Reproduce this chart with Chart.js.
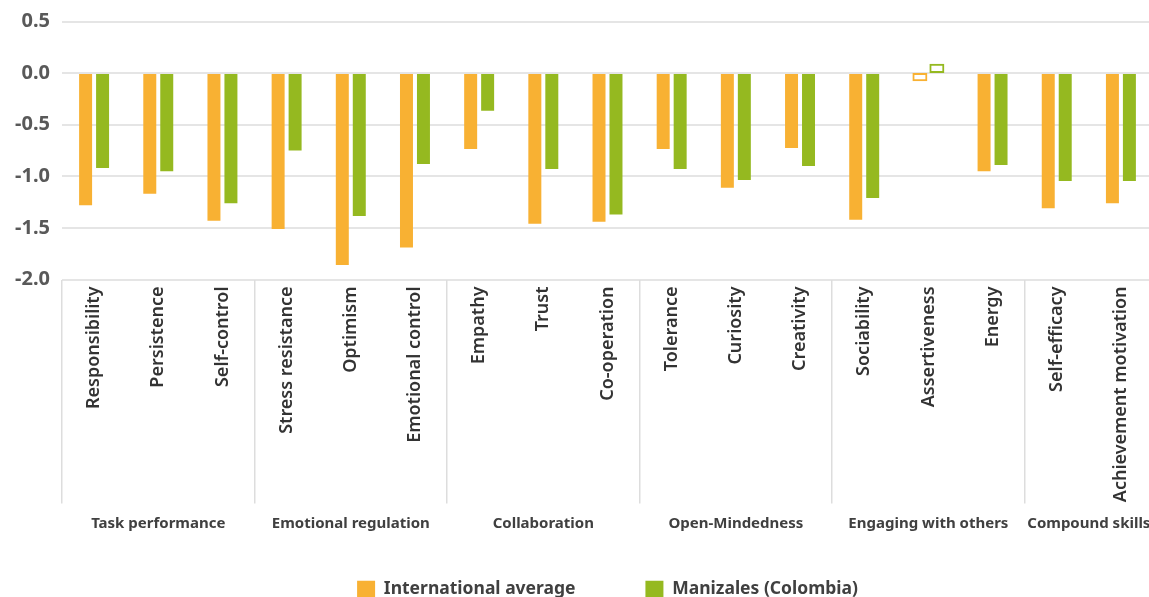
<!DOCTYPE html>
<html>
<head>
<meta charset="utf-8">
<script src="https://cdn.jsdelivr.net/npm/chart.js@4/dist/chart.umd.min.js"></script>
<style>
  html, body { margin: 0; padding: 0; background: #fff; overflow: hidden; }
  #wrap { position: relative; width: 1164px; height: 608px; }
</style>
</head>
<body>
<div id="wrap"><canvas id="c"></canvas></div>
<script>
const categories = ['Responsibility', 'Persistence', 'Self-control', 'Stress resistance', 'Optimism',
  'Emotional control', 'Empathy', 'Trust', 'Co-operation', 'Tolerance', 'Curiosity', 'Creativity',
  'Sociability', 'Assertiveness', 'Energy', 'Self-efficacy', 'Achievement motivation'];
const groups = ['Task performance', 'Emotional regulation', 'Collaboration', 'Open-Mindedness',
  'Engaging with others', 'Compound skills'];
const groupSizes = [3, 3, 3, 3, 3, 2];
const seriesNames = ['International average', 'Manizales (Colombia)'];
const intlAverage = [-1.28, -1.17, -1.43, -1.51, -1.86, -1.69, -0.735, -1.46, -1.44,
  -0.735, -1.11, -0.725, -1.42, -0.07, -0.95, -1.31, -1.26];
const manizales = [-0.92, -0.95, -1.26, -0.75, -1.385, -0.88, -0.365, -0.93, -1.37,
  -0.93, -1.035, -0.90, -1.21, 0.08, -0.89, -1.045, -1.045];
// outlined (hollow) marks
const notSignificant = [false, false, false, false, false, false, false, false, false,
  false, false, false, false, true, false, false, false];
const yTickValues = [0.5, 0.0, -0.5, -1.0, -1.5, -2.0];

const ORANGE = '#F8B133';
const GREEN = '#95B920';
const FONT = "'Noto Sans', 'Open Sans', sans-serif";

// group boundaries (category index where each group starts)
const groupStarts = [];
let acc = 0;
groupSizes.forEach(s => { groupStarts.push(acc); acc += s; });
groupStarts.push(acc);

// group axis: half-category slots from -0.5 to n-0.5 (non-offset category axis)
const groupAxisLabels = [];
for (let j = 0; j <= categories.length * 2; j++) groupAxisLabels.push('');
groupSizes.forEach((s, g) => {
  const center = groupStarts[g] + (s - 1) / 2;       // in category units
  groupAxisLabels[Math.round((center + 0.5) * 2)] = groups[g];
});

function makeDataset(label, data, color) {
  return {
    label: label,
    data: data,
    backgroundColor: data.map((v, i) => notSignificant[i] ? '#FFFFFF' : color),
    borderColor: color,
    borderWidth: data.map((v, i) => notSignificant[i] ? 2 : 0),
    borderSkipped: false,
    inflateAmount: data.map((v, i) => notSignificant[i] ? 1 : 'auto'),
    categoryPercentage: 0.529,
    barPercentage: 0.765
  };
}

new Chart(document.getElementById('c'), {
  type: 'bar',
  data: {
    labels: categories,
    datasets: [
      makeDataset(seriesNames[0], intlAverage, ORANGE),
      makeDataset(seriesNames[1], manizales, GREEN)
    ]
  },
  options: {
    responsive: true,
    maintainAspectRatio: false,
    animation: false,
    layout: { padding: { top: 21.5, left: 14, right: 6, bottom: 0 } },
    plugins: {
      tooltip: { enabled: false },
      legend: {
        position: 'bottom',
        fullSize: false,
        labels: {
          font: { family: FONT, size: 17.5, weight: 'bold' },
          color: '#404040',
          boxWidth: 18,
          boxHeight: 17,
          padding: 46,
          generateLabels: (chart) => chart.data.datasets.map((ds, i) => ({
            text: i === 0 ? ds.label + '\u2003\u2009\u200A\u200A' : ds.label,
            fillStyle: i === 0 ? ORANGE : GREEN,
            strokeStyle: i === 0 ? ORANGE : GREEN,
            lineWidth: 0,
            fontColor: '#404040',
            datasetIndex: i,
            hidden: false
          }))
        }
      }
    },
    scales: {
      y: {
        min: -2.0,
        max: 0.5,
        afterBuildTicks: (scale) => { scale.ticks = yTickValues.map(v => ({ value: v })); },
        afterFit: (scale) => { scale.width = 48; scale.paddingTop = 0; scale.paddingBottom = 0; },
        ticks: {
          callback: (v) => v.toFixed(1),
          font: { family: FONT, size: 20, weight: 'bold' },
          color: '#595959',
          padding: 12
        },
        grid: { color: '#E5E5E5', lineWidth: 2, drawTicks: false },
        border: { display: false }
      },
      x: {
        type: 'category',
        position: 'bottom',
        weight: 0,
        afterFit: (scale) => { scale.height = 224; },
        ticks: {
          autoSkip: false,
          maxRotation: 90,
          minRotation: 90,
          font: { family: FONT, size: 18, weight: 600 },
          color: '#333333',
          padding: -217
        },
        grid: {
          drawOnChartArea: false,
          drawTicks: true,
          tickLength: 224,
          lineWidth: 1.5,
          color: (ctx) => (ctx.index !== undefined && groupStarts.includes(ctx.index)) ? '#DDDDDD' : 'rgba(0,0,0,0)'
        },
        border: { display: false }
      },
      groups: {
        type: 'category',
        position: 'bottom',
        weight: 1,
        labels: groupAxisLabels,
        offset: false,
        afterFit: (scale) => { scale.height = 31; },
        ticks: {
          autoSkip: false,
          maxRotation: 0,
          minRotation: 0,
          font: { family: FONT, size: 15, weight: 'bold' },
          color: '#404040',
          padding: 11
        },
        grid: { display: false, drawTicks: false, offset: false },
        border: { display: false }
      }
    }
  }
});
</script>
</body>
</html>
